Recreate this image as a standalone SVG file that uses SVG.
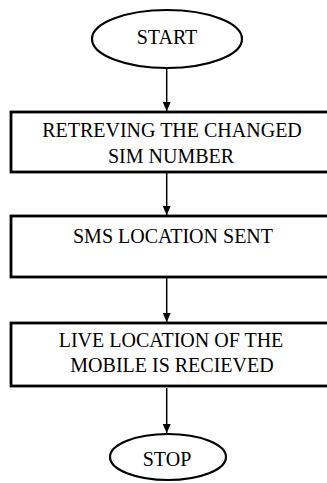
<svg xmlns="http://www.w3.org/2000/svg" width="327" height="483" viewBox="0 0 327 483">
<style>
.box{fill:#fff;stroke:#000;stroke-width:2.8}
.term{fill:#fff;stroke:#000;stroke-width:2.2}
.lbl{font-family:"Liberation Serif","Times New Roman",serif;font-size:20px;fill:#000;text-anchor:middle}
.conn{stroke:#000;stroke-width:1.5;fill:none;marker-end:url(#ah)}
</style>
<defs>
<marker id="ah" markerUnits="userSpaceOnUse" markerWidth="9" markerHeight="8" refX="9" refY="4" orient="auto" viewBox="0 0 9 8">
<path d="M0,0 L9,4 L0,8 Z" fill="#000"/>
</marker>
</defs>
<rect width="327" height="483" fill="#fff"/>
<g id="connectors">
<path class="conn" d="M166.7,68 L166.7,111"/>
<path class="conn" d="M166.7,173 L166.7,215"/>
<path class="conn" d="M166.7,278 L166.7,322"/>
<path class="conn" d="M166.7,388 L166.7,433"/>
</g>
<g id="start">
<ellipse class="term" cx="167" cy="39" rx="75" ry="29"/>
<text class="lbl" x="167" y="44">START</text>
</g>
<g id="retrieve">
<rect class="box" x="11" y="112" width="330" height="60"/>
<text class="lbl" x="172" y="137">RETREVING THE CHANGED</text>
<text class="lbl" x="171" y="163">SIM NUMBER</text>
</g>
<g id="sms">
<rect class="box" x="11" y="216" width="330" height="61"/>
<text class="lbl" x="173" y="243">SMS LOCATION SENT</text>
</g>
<g id="live">
<rect class="box" x="11" y="323" width="330" height="63"/>
<text class="lbl" x="171" y="347">LIVE LOCATION OF THE</text>
<text class="lbl" x="172" y="372">MOBILE IS RECIEVED</text>
</g>
<g id="stop">
<ellipse class="term" cx="168" cy="457" rx="58" ry="23"/>
<text class="lbl" x="167" y="466">STOP</text>
</g>
</svg>
